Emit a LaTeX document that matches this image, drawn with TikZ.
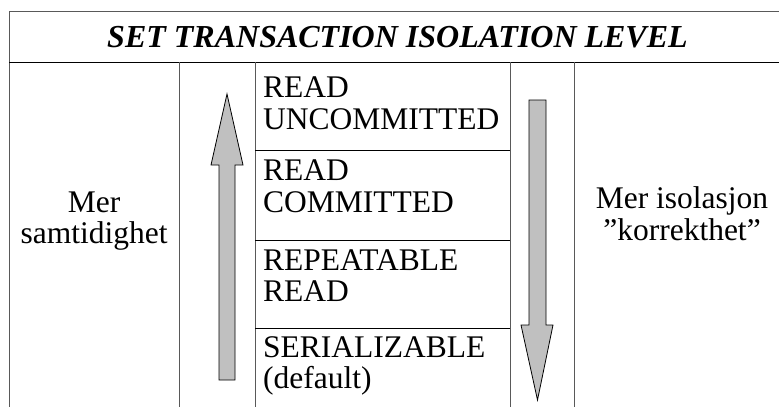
\documentclass[tikz,border=0pt]{standalone}
\usepackage{fontspec}
\setmainfont{Liberation Serif}
\begin{document}
\begin{tikzpicture}[x=1pt,y=-1pt,
  frame/.style={draw=black!65, line width=1pt},
  rule/.style={draw=black, line width=1pt},
  arrowshape/.style={draw=black, line width=0.8pt, fill={rgb,255:red,192;green,192;blue,192}, line join=miter},
  body/.style={inner sep=0pt, anchor=base west, font=\fontsize{31.5}{32}\selectfont},
  side/.style={inner sep=0pt, anchor=base, font=\fontsize{31.5}{32}\selectfont},
  titletext/.style={inner sep=0pt, anchor=base, font=\fontsize{32}{36}\selectfont\bfseries\itshape}]
\useasboundingbox (0,0) rectangle (779,407);
\fill[white] (0,0) rectangle (779,407);
% frame
\draw[frame] (9,11) -- (779,11);
\draw[frame] (9,11) -- (9,407);
\draw[rule] (9,62) -- (779,62);
\draw[frame] (179,62) -- (179,407);
\draw[frame] (255,62) -- (255,407);
\draw[frame] (510,62) -- (510,407);
\draw[frame] (574,62) -- (574,407);
% cell dividers
\draw[rule] (255,150) -- (510,150);
\draw[rule] (255,240) -- (510,240);
\draw[rule] (255,328) -- (510,328);
% title
\node[titletext] (title) at (397.5,47) {SET TRANSACTION ISOLATION LEVEL};
% middle column
\node[body] (ru1) at (263,97) {READ};
\node[body] (ru2) at (263,129) {UNCOMMITTED};
\node[body] (rc1) at (263,180) {READ};
\node[body] (rc2) at (263,212) {COMMITTED};
\node[body] (rr1) at (263,270) {REPEATABLE};
\node[body] (rr2) at (263,301) {READ};
\node[body] (se1) at (263,357) {SERIALIZABLE};
\node[body] (se2) at (263,388) {(default)};
% side texts
\node[side] (l1) at (94,212) {Mer};
\node[side] (l2) at (94,243) {samtidighet};
\node[side] (r1) at (682,208) {Mer isolasjon};
\node[side] (r2) at (682,240) {''korrekthet''};
% arrows
\draw[arrowshape] (219,380) -- (219,165) -- (211,165) -- (227,94) -- (243,165) -- (235,165) -- (235,380) -- cycle;
\draw[arrowshape] (529,100) -- (546,100) -- (546,325) -- (553,325) -- (537.5,400) -- (521,325) -- (529,325) -- cycle;
\end{tikzpicture}
\end{document}
